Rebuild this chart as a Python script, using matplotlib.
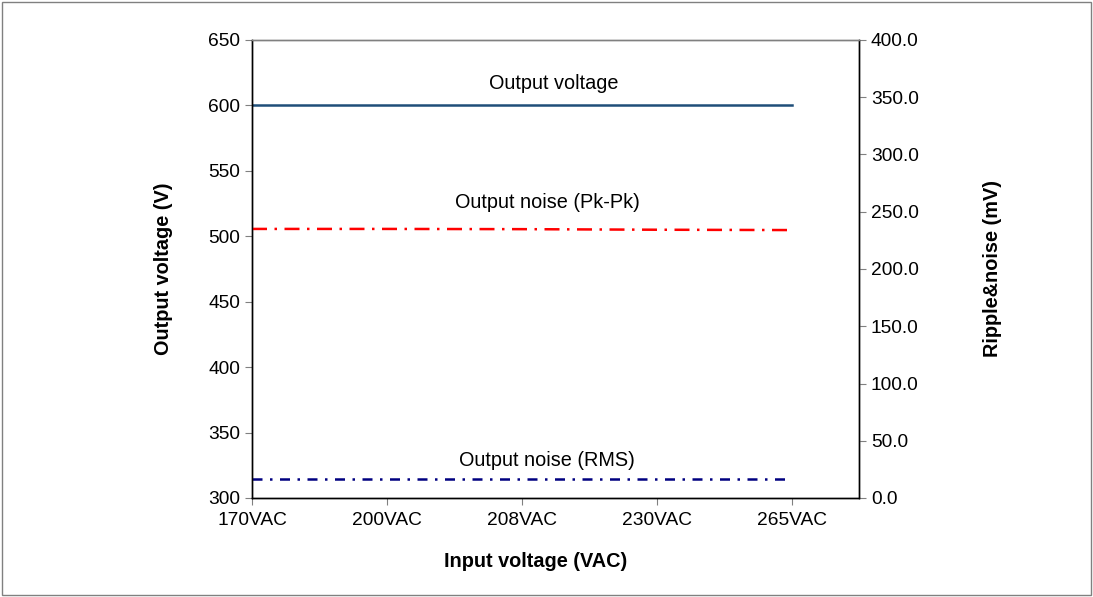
import numpy as np
import matplotlib.pyplot as plt
from matplotlib.patches import Rectangle

plt.rcParams['font.family'] = ['Liberation Sans', 'DejaVu Sans']

inputs = ['170VAC', '200VAC', '208VAC', '230VAC', '265VAC']
vout = [600, 600, 600, 600, 600]
noise_pp = [235.0, 235.0, 234.8, 234.3, 234.0]
noise_rms = [16.5, 16.5, 16.5, 16.5, 16.5]

fig = plt.figure(figsize=(10.93, 5.97), dpi=100)
ax = fig.add_axes([252 / 1093, 1 - 498 / 597, 607 / 1093, 458 / 597])
ax2 = ax.twinx()

x = np.arange(len(inputs))
ax.plot(x, vout, color='#1f4e79', lw=1.8)
ax2.plot(x, noise_pp, color='red', lw=1.8, dashes=(6, 3, 1, 3))
ax2.plot(x, noise_rms, color='#000080', lw=1.8, dashes=(4, 3, 1, 3))

ax.set_xlim(0, 4.5)
ax.set_ylim(300, 650)
ax.set_yticks(np.arange(300, 651, 50))
ax2.set_ylim(0, 400)
ax2.set_yticks(np.arange(0, 401, 50))
ax2.set_yticklabels(['%.1f' % v for v in np.arange(0, 401, 50)])
ax.set_xticks(x)
ax.set_xticklabels(inputs)

for a in (ax, ax2):
    a.tick_params(labelsize=13.8, length=5, width=0.8, direction='out', color='#808080')
    for s in a.spines.values():
        s.set_color('black')
        s.set_linewidth(1)
    a.spines['top'].set_color('#808080')
ax.tick_params(axis='x', pad=5)

ax.set_ylabel('Output voltage (V)', fontsize=14.3, fontweight='bold', labelpad=25)
ax2.set_ylabel('Ripple&noise (mV)', fontsize=14.3, fontweight='bold', labelpad=46)
ax.set_xlabel('Input voltage (VAC)', fontsize=14.3, fontweight='bold')
ax.xaxis.set_label_coords(0.468, -0.118)

ax.text(2.24, 617, 'Output voltage', ha='center', va='center', fontsize=14.3)
ax.text(2.19, 525.5, 'Output noise (Pk-Pk)', ha='center', va='center', fontsize=14.3)
ax.text(2.185, 329, 'Output noise (RMS)', ha='center', va='center', fontsize=14.3)

fig.patches.append(Rectangle((0.002, 0.003), 0.996, 0.994, transform=fig.transFigure,
                             fill=False, edgecolor='#808080', lw=1))

fig.savefig('out.png', dpi=100)
